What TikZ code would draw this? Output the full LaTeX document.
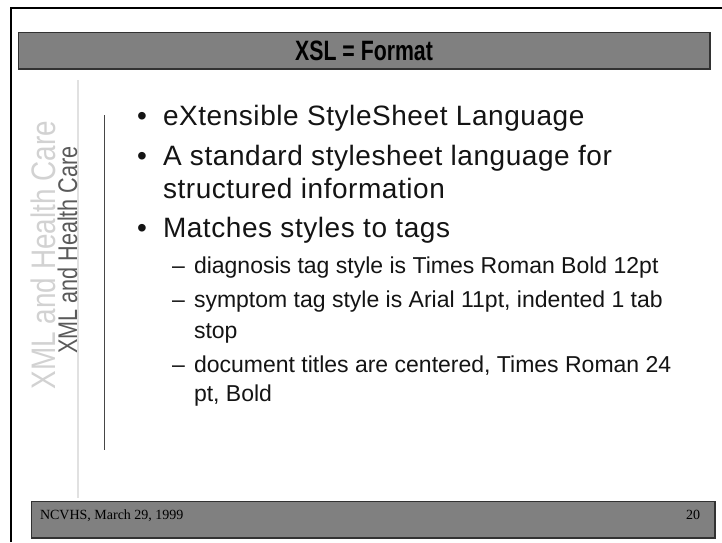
\documentclass[tikz,border=0pt]{standalone}
\usepackage{fontspec}
\setmainfont{Liberation Sans}
\newfontfamily\footfont{Liberation Serif}
\newfontfamily\bodyfont[LetterSpace=2.0]{Liberation Sans}
\definecolor{barfill}{RGB}{128,128,128}
\definecolor{barline}{RGB}{50,50,50}
\definecolor{inktext}{RGB}{20,20,20}
\definecolor{ghost}{RGB}{210,210,210}
\definecolor{sidetext}{RGB}{90,90,90}
\definecolor{rulelight}{RGB}{225,225,225}
\definecolor{ruledark}{RGB}{70,70,70}
\tikzset{
  every node/.style={inner sep=0pt, outer sep=0pt},
  bar/.style={draw=barline, fill=barfill, line width=1pt, anchor=north west},
  barshade/.style={draw=barline, line width=1.6pt},
  bodyline/.style={anchor=base west, text=inktext, font=\bodyfont\fontsize{28}{33}\selectfont},
  subline/.style={anchor=base west, text=inktext, font=\fontsize{23}{28}\selectfont},
  footline/.style={anchor=base, text=black, font=\footfont\fontsize{14}{17}\selectfont},
}
\begin{document}
\begin{tikzpicture}[x=1pt, y=-1pt]
\useasboundingbox (0,0) rectangle (722,542);
\fill[white] (0,0) rectangle (722,542);

% slide frame (top and left edges)
\coordinate (frameBL) at (11,542);
\coordinate (frameTL) at (11,7.5);
\coordinate (frameTR) at (722,7.5);
\draw[line width=2pt] (frameBL) -- (frameTL) -- (frameTR);

% title bar
\node[bar, minimum width=692pt, minimum height=37pt] (titlebar) at (18,32) {};
\draw[barshade] (titlebar.north east) -- (titlebar.south east) -- (titlebar.south west);
\node[anchor=base, font=\bfseries\fontsize{28}{32}\selectfont, text=black] (title) at (364,60) {\scalebox{0.76}[1]{XSL = Format}};

% footer bar
\node[bar, minimum width=684pt, minimum height=37pt] (footbar) at (31,501) {};
\draw[barshade] (footbar.north east) -- (footbar.south east) -- (footbar.south west);
\node[footline, anchor=base west] (footleft) at (40,519) {NCVHS, March 29, 1999};
\node[footline, anchor=base east] (footright) at (700,519) {20};

% side rules
\coordinate (lightTop) at (78,80);
\coordinate (lightBot) at (78,498);
\draw[rulelight, line width=1.5pt] (lightTop) -- (lightBot);
\coordinate (darkTop) at (104,115);
\coordinate (darkBot) at (104,450);
\draw[ruledark, line width=1pt] (darkTop) -- (darkBot);

% vertical side titles
\node[rotate=90, anchor=base, text=ghost, font=\fontsize{34}{40}\selectfont] (sideghost) at (55,255) {\scalebox{0.82}[1]{XML and Health Care}};
\node[rotate=90, anchor=base, text=sidetext, font=\fontsize{27}{32}\selectfont] (sidedark) at (77,250) {\scalebox{0.8}[1]{XML and Health Care}};

% bullets
\node[bodyline] (b1) at (137,125) {\textbullet};
\node[bodyline] (t1) at (163,125) {eXtensible StyleSheet Language};
\node[bodyline] (b2) at (137,165) {\textbullet};
\node[bodyline] (t2) at (163,165) {A standard stylesheet language for};
\node[bodyline] (t2b) at (163,198) {structured information};
\node[bodyline] (b3) at (137,237) {\textbullet};
\node[bodyline] (t3) at (163,237) {Matches styles to tags};

% sub-items
\node[subline] (d1) at (172,273) {\textendash};
\node[subline] (s1) at (194,273) {diagnosis tag style is Times Roman Bold 12pt};
\node[subline] (d2) at (172,307) {\textendash};
\node[subline] (s2) at (194,307) {symptom tag style is Arial 11pt, indented 1 tab};
\node[subline] (s2b) at (194,338) {stop};
\node[subline] (d3) at (172,372) {\textendash};
\node[subline] (s3) at (194,372) {document titles are centered, Times Roman 24};
\node[subline] (s3b) at (194,401) {pt, Bold};
\end{tikzpicture}
\end{document}
